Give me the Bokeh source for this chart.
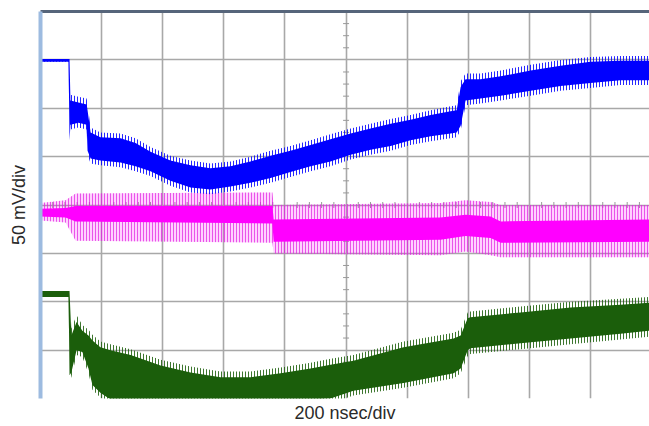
from bokeh.plotting import figure
from bokeh.models import LinearAxis, FixedTicker, Grid
from bokeh.embed import file_html
from bokeh.resources import INLINE
import numpy as np

# ---- data (time in ns, amplitude in mV; 200 ns/div, 50 mV/div) ----
blue_t = [0, 92, 95, 98, 124, 151, 154, 164, 196, 262, 311, 360, 425, 491, 556,
          622, 687, 753, 818, 884, 949, 1015, 1080, 1146, 1211, 1277, 1342, 1362,
          1375, 1391, 1440, 1506, 1604, 1702, 1800, 1898, 1993]
# dense core of the blue trace
blue_hi = [151, 151, 151, 108, 106, 104, 98, 75, 70, 69, 64, 55, 46, 41, 38,
           40, 45, 51, 56, 62, 68, 74, 79, 84, 88, 93, 97, 98,
           122, 130, 130, 133, 139, 144, 148, 149, 149]
blue_lo = [148, 148, 67, 83, 85, 83, 56, 48, 46, 44, 40, 35, 25, 18, 16,
           19, 23, 28, 34, 40, 45, 52, 57, 61, 67, 71, 74, 75,
           82, 108, 110, 113, 118, 123, 126, 129, 129]
# outer extent of the blue noise spikes
blue_spk_hi = [151, 151, 151, 114, 112, 110, 104, 80, 75, 74, 69, 60, 51, 46, 43,
               45, 50, 56, 61, 67, 73, 79, 84, 89, 93, 98, 102, 103,
               128, 136, 136, 139, 145, 150, 153, 154, 154]
blue_spk_lo = [148, 148, 64, 78, 80, 78, 52, 43, 41, 39, 35, 30, 20, 13, 11,
               14, 18, 23, 29, 35, 40, 47, 52, 56, 62, 66, 69, 70,
               77, 103, 105, 108, 113, 118, 121, 124, 124]

mag_t = [0, 82, 115, 759, 763, 1309, 1391, 1473, 1506, 1993]
mag_core_hi = [-4, -3, -1, -1, -15, -13, -10, -12, -17, -15]
mag_core_lo = [-12, -13, -17, -19, -38, -36, -32, -34, -39, -38]
mag_spike_hi = [2, 5, 12, 13, 0, 2, 5, 3, 0, 0]
mag_spike_lo = [-16, -18, -37, -39, -50, -52, -48, -52, -54, -54]

green_t = [0, 92, 95, 101, 118, 137, 157, 170, 196, 229, 295, 393, 491, 589,
           687, 786, 884, 949, 1024, 1188, 1352, 1375, 1398, 1407, 1571, 1735,
           1898, 1993]
green_hi = [-89, -89, -89, -135, -121, -130, -135, -140, -147, -150, -155, -166,
            -173, -178, -178, -174, -169, -165, -161, -147, -138, -135, -117,
            -116, -111, -106, -103, -101]
green_lo = [-95, -95, -176, -173, -150, -152, -169, -186, -194, -201, -201, -201,
            -201, -201, -201, -201, -201, -200, -192, -184, -174, -169, -150,
            -148, -143, -138, -133, -130]
green_spk_hi = [-89, -89, -89, -128, -114, -124, -129, -134, -141, -144, -149, -160,
                -167, -172, -172, -168, -163, -159, -155, -141, -132, -129, -111,
                -110, -105, -100, -97, -95]
green_spk_lo = [-95, -95, -180, -178, -155, -157, -174, -191, -199, -205, -205, -205,
                -205, -205, -205, -205, -205, -205, -197, -189, -179, -174, -156,
                -154, -149, -144, -139, -136]

x_div_ticks = list(range(0, 2001, 200))
y_div_ticks = list(range(-200, 201, 50))

GRID = "#a8a8a8"
BLUE = "#0000ff"
MAG = "#ff00ff"
GREEN = "#1b5e0b"

p = figure(width=649, height=426, x_range=(0, 1993), y_range=(-200, 200),
           x_axis_type=None, y_axis_type=None, output_backend="svg",
           toolbar_location=None, min_border_left=40, min_border_right=0,
           min_border_top=11, min_border_bottom=28,
           background_fill_color="white", border_fill_color="white",
           outline_line_color=None)

p.add_layout(Grid(dimension=0, ticker=FixedTicker(ticks=x_div_ticks),
                  grid_line_color=GRID, grid_line_width=1.6))
p.add_layout(Grid(dimension=1, ticker=FixedTicker(ticks=y_div_ticks),
                  grid_line_color=GRID, grid_line_width=1.6))

# minor ticks on the centre cross-hair
vt = [v for v in np.arange(-200, 200.1, 12.5) if v % 50 != 0]
ht = [v for v in range(0, 1993, 40) if v % 200 != 0]
p.scatter(x=[1000] * len(vt), y=vt, marker="dash", size=6, line_color="#999999",
          line_width=1)
p.scatter(x=ht, y=[0] * len(ht), marker="dash", size=6, angle=np.pi / 2,
          line_color="#999999", line_width=1)

# magenta trace
p.varea(x=mag_t, y1=mag_spike_lo, y2=mag_spike_hi, fill_color=MAG,
        fill_alpha=0.18, hatch_pattern="vertical_line", hatch_color="#e020e0",
        hatch_scale=3, hatch_weight=1, hatch_alpha=0.7)
p.varea(x=mag_t, y1=mag_core_lo, y2=mag_core_hi, fill_color=MAG)

# blue trace
p.varea(x=blue_t, y1=blue_spk_lo, y2=blue_spk_hi, fill_alpha=0,
        hatch_pattern="vertical_line", hatch_color=BLUE, hatch_scale=3,
        hatch_weight=1, hatch_alpha=0.85)
p.varea(x=blue_t, y1=blue_lo, y2=blue_hi, fill_color=BLUE)

# green trace
p.varea(x=green_t, y1=green_spk_lo, y2=green_spk_hi, fill_alpha=0,
        hatch_pattern="vertical_line", hatch_color=GREEN, hatch_scale=3,
        hatch_weight=1, hatch_alpha=0.85)
p.varea(x=green_t, y1=green_lo, y2=green_hi, fill_color=GREEN)

common = dict(ticker=FixedTicker(ticks=[]), major_tick_line_color=None,
              minor_tick_line_color=None, major_label_text_font_size="0px",
              axis_label_text_font="Liberation Sans",
              axis_label_text_font_size="18px",
              axis_label_text_font_style="normal",
              axis_label_text_color="#2a2a2a")

left = LinearAxis(axis_label="50 mV/div", axis_line_color="#9dbbe0",
                  axis_line_width=4, axis_label_standoff=12, **common)
p.add_layout(left, "left")

below = LinearAxis(axis_label="200 nsec/div", axis_line_color=None,
                   axis_label_standoff=4, **common)
p.add_layout(below, "below")

above = LinearAxis(axis_line_color="#56657a", axis_line_width=3, **common)
p.add_layout(above, "above")

open("out.html", "w").write(file_html(p, INLINE))
